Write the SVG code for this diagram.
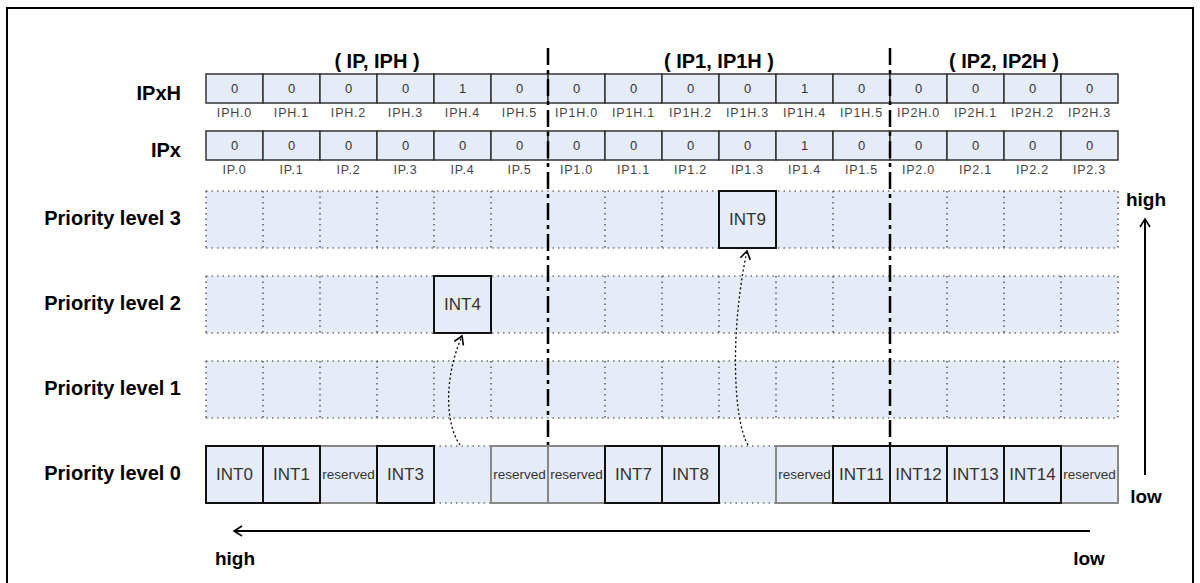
<svg xmlns="http://www.w3.org/2000/svg" width="1200" height="583" viewBox="0 0 1200 583">
<defs>
<style>
.lbl{font-family:"Liberation Sans",Arial,sans-serif;font-weight:bold;font-size:20px;fill:#000}
.ttl{font-family:"Liberation Sans",Arial,sans-serif;font-weight:bold;font-size:20px;fill:#000;text-anchor:middle}
.dir{font-family:"Liberation Sans",Arial,sans-serif;font-weight:bold;font-size:19px;fill:#000;text-anchor:middle}
.cell{fill:#E6ECF7;stroke:#333;stroke-width:1.5}
.val{font-family:"Liberation Sans",Arial,sans-serif;font-size:13px;fill:#333;text-anchor:middle}
.bit{font-family:"Liberation Sans",Arial,sans-serif;font-size:12.5px;fill:#444;text-anchor:middle;letter-spacing:0.8px}
.lvl{fill:#E6ECF7;stroke:none}
.dot{stroke:#333;stroke-width:1.2;stroke-dasharray:1.5 4;fill:none}
.blk{fill:#E6ECF7;stroke:#111;stroke-width:2}
.gry{fill:#E6ECF7;stroke:#888;stroke-width:2}
.int{font-family:"Liberation Sans",Arial,sans-serif;font-size:17px;fill:#333;text-anchor:middle}
.rsv{font-family:"Liberation Sans",Arial,sans-serif;font-size:13.5px;fill:#333;text-anchor:middle}
.sep{stroke:#000;stroke-width:2.5;stroke-dasharray:17 5 4 5;fill:none}
.arr{stroke:#000;stroke-width:2;fill:none}
.curve{stroke:#000;stroke-width:1.3;stroke-dasharray:2 2.5;fill:none}
</style>
<marker id="chev" viewBox="0 0 12 12" refX="10" refY="6" markerWidth="12" markerHeight="12" markerUnits="userSpaceOnUse" orient="auto">
<path d="M2,1 L10,6 L2,11" fill="none" stroke="#000" stroke-width="1.6"/>
</marker>
</defs>
<rect x="7" y="8" width="1186" height="590" fill="#fff" stroke="#000" stroke-width="2"/>

<g id="titles">
<text class="ttl" x="377" y="68">( IP, IPH )</text>
<text class="ttl" x="719" y="68">( IP1, IP1H )</text>
<text class="ttl" x="1004" y="68">( IP2, IP2H )</text>
</g>

<g id="row-labels">
<text class="lbl" x="181" y="100" text-anchor="end">IPxH</text>
<text class="lbl" x="181" y="157" text-anchor="end">IPx</text>
<text class="lbl" x="181" y="225" text-anchor="end">Priority level 3</text>
<text class="lbl" x="181" y="310" text-anchor="end">Priority level 2</text>
<text class="lbl" x="181" y="395" text-anchor="end">Priority level 1</text>
<text class="lbl" x="181" y="480" text-anchor="end">Priority level 0</text>
</g>

<g id="IPxH">
<rect class="cell" x="206" y="74" width="57" height="29"/><text class="val" x="234.5" y="93">0</text>
<rect class="cell" x="263" y="74" width="57" height="29"/><text class="val" x="291.5" y="93">0</text>
<rect class="cell" x="320" y="74" width="57" height="29"/><text class="val" x="348.5" y="93">0</text>
<rect class="cell" x="377" y="74" width="57" height="29"/><text class="val" x="405.5" y="93">0</text>
<rect class="cell" x="434" y="74" width="57" height="29"/><text class="val" x="462.5" y="93">1</text>
<rect class="cell" x="491" y="74" width="57" height="29"/><text class="val" x="519.5" y="93">0</text>
<rect class="cell" x="548" y="74" width="57" height="29"/><text class="val" x="576.5" y="93">0</text>
<rect class="cell" x="605" y="74" width="57" height="29"/><text class="val" x="633.5" y="93">0</text>
<rect class="cell" x="662" y="74" width="57" height="29"/><text class="val" x="690.5" y="93">0</text>
<rect class="cell" x="719" y="74" width="57" height="29"/><text class="val" x="747.5" y="93">0</text>
<rect class="cell" x="776" y="74" width="57" height="29"/><text class="val" x="804.5" y="93">1</text>
<rect class="cell" x="833" y="74" width="57" height="29"/><text class="val" x="861.5" y="93">0</text>
<rect class="cell" x="890" y="74" width="57" height="29"/><text class="val" x="918.5" y="93">0</text>
<rect class="cell" x="947" y="74" width="57" height="29"/><text class="val" x="975.5" y="93">0</text>
<rect class="cell" x="1004" y="74" width="57" height="29"/><text class="val" x="1032.5" y="93">0</text>
<rect class="cell" x="1061" y="74" width="57" height="29"/><text class="val" x="1089.5" y="93">0</text>
<text class="bit" x="234.5" y="117">IPH.0</text>
<text class="bit" x="291.5" y="117">IPH.1</text>
<text class="bit" x="348.5" y="117">IPH.2</text>
<text class="bit" x="405.5" y="117">IPH.3</text>
<text class="bit" x="462.5" y="117">IPH.4</text>
<text class="bit" x="519.5" y="117">IPH.5</text>
<text class="bit" x="576.5" y="117">IP1H.0</text>
<text class="bit" x="633.5" y="117">IP1H.1</text>
<text class="bit" x="690.5" y="117">IP1H.2</text>
<text class="bit" x="747.5" y="117">IP1H.3</text>
<text class="bit" x="804.5" y="117">IP1H.4</text>
<text class="bit" x="861.5" y="117">IP1H.5</text>
<text class="bit" x="918.5" y="117">IP2H.0</text>
<text class="bit" x="975.5" y="117">IP2H.1</text>
<text class="bit" x="1032.5" y="117">IP2H.2</text>
<text class="bit" x="1089.5" y="117">IP2H.3</text>
</g>

<g id="IPx">
<rect class="cell" x="206" y="131" width="57" height="29"/><text class="val" x="234.5" y="150">0</text>
<rect class="cell" x="263" y="131" width="57" height="29"/><text class="val" x="291.5" y="150">0</text>
<rect class="cell" x="320" y="131" width="57" height="29"/><text class="val" x="348.5" y="150">0</text>
<rect class="cell" x="377" y="131" width="57" height="29"/><text class="val" x="405.5" y="150">0</text>
<rect class="cell" x="434" y="131" width="57" height="29"/><text class="val" x="462.5" y="150">0</text>
<rect class="cell" x="491" y="131" width="57" height="29"/><text class="val" x="519.5" y="150">0</text>
<rect class="cell" x="548" y="131" width="57" height="29"/><text class="val" x="576.5" y="150">0</text>
<rect class="cell" x="605" y="131" width="57" height="29"/><text class="val" x="633.5" y="150">0</text>
<rect class="cell" x="662" y="131" width="57" height="29"/><text class="val" x="690.5" y="150">0</text>
<rect class="cell" x="719" y="131" width="57" height="29"/><text class="val" x="747.5" y="150">0</text>
<rect class="cell" x="776" y="131" width="57" height="29"/><text class="val" x="804.5" y="150">1</text>
<rect class="cell" x="833" y="131" width="57" height="29"/><text class="val" x="861.5" y="150">0</text>
<rect class="cell" x="890" y="131" width="57" height="29"/><text class="val" x="918.5" y="150">0</text>
<rect class="cell" x="947" y="131" width="57" height="29"/><text class="val" x="975.5" y="150">0</text>
<rect class="cell" x="1004" y="131" width="57" height="29"/><text class="val" x="1032.5" y="150">0</text>
<rect class="cell" x="1061" y="131" width="57" height="29"/><text class="val" x="1089.5" y="150">0</text>
<text class="bit" x="234.5" y="174">IP.0</text>
<text class="bit" x="291.5" y="174">IP.1</text>
<text class="bit" x="348.5" y="174">IP.2</text>
<text class="bit" x="405.5" y="174">IP.3</text>
<text class="bit" x="462.5" y="174">IP.4</text>
<text class="bit" x="519.5" y="174">IP.5</text>
<text class="bit" x="576.5" y="174">IP1.0</text>
<text class="bit" x="633.5" y="174">IP1.1</text>
<text class="bit" x="690.5" y="174">IP1.2</text>
<text class="bit" x="747.5" y="174">IP1.3</text>
<text class="bit" x="804.5" y="174">IP1.4</text>
<text class="bit" x="861.5" y="174">IP1.5</text>
<text class="bit" x="918.5" y="174">IP2.0</text>
<text class="bit" x="975.5" y="174">IP2.1</text>
<text class="bit" x="1032.5" y="174">IP2.2</text>
<text class="bit" x="1089.5" y="174">IP2.3</text>
</g>

<g id="level-rows">
<rect class="lvl" x="206" y="191" width="912" height="57"/>
<rect class="lvl" x="206" y="276" width="912" height="57"/>
<rect class="lvl" x="206" y="361" width="912" height="57"/>
<path class="dot" d="M206,191H1118M206,248H1118M206,276H1118M206,333H1118M206,361H1118M206,418H1118"/>
<path class="dot" d="M206,191V248M263,191V248M320,191V248M377,191V248M434,191V248M491,191V248M605,191V248M662,191V248M719,191V248M776,191V248M833,191V248M947,191V248M1004,191V248M1061,191V248M1118,191V248"/>
<path class="dot" d="M206,276V333M263,276V333M320,276V333M377,276V333M434,276V333M491,276V333M605,276V333M662,276V333M719,276V333M776,276V333M833,276V333M947,276V333M1004,276V333M1061,276V333M1118,276V333"/>
<path class="dot" d="M206,361V418M263,361V418M320,361V418M377,361V418M434,361V418M491,361V418M605,361V418M662,361V418M719,361V418M776,361V418M833,361V418M947,361V418M1004,361V418M1061,361V418M1118,361V418"/>
<rect class="lvl" x="434" y="446" width="57" height="57"/>
<rect class="lvl" x="719" y="446" width="57" height="57"/>
<path class="dot" d="M434,446H491M434,503H491M719,446H776M719,503H776"/>
</g>

<g id="separators">
<path class="sep" d="M548,48V446"/>
<path class="sep" d="M890,48V446"/>
</g>

<g id="level0">
<rect class="gry" x="320" y="446" width="57" height="57"/><text class="rsv" x="348.5" y="479">reserved</text>
<rect class="gry" x="491" y="446" width="57" height="57"/><text class="rsv" x="519.5" y="479">reserved</text>
<rect class="gry" x="548" y="446" width="57" height="57"/><text class="rsv" x="576.5" y="479">reserved</text>
<rect class="gry" x="776" y="446" width="57" height="57"/><text class="rsv" x="804.5" y="479">reserved</text>
<rect class="gry" x="1061" y="446" width="57" height="57"/><text class="rsv" x="1089.5" y="479">reserved</text>
<rect class="blk" x="206" y="446" width="57" height="57"/><text class="int" x="234.5" y="480">INT0</text>
<rect class="blk" x="263" y="446" width="57" height="57"/><text class="int" x="291.5" y="480">INT1</text>
<rect class="blk" x="377" y="446" width="57" height="57"/><text class="int" x="405.5" y="480">INT3</text>
<rect class="blk" x="605" y="446" width="57" height="57"/><text class="int" x="633.5" y="480">INT7</text>
<rect class="blk" x="662" y="446" width="57" height="57"/><text class="int" x="690.5" y="480">INT8</text>
<rect class="blk" x="833" y="446" width="57" height="57"/><text class="int" x="861.5" y="480">INT11</text>
<rect class="blk" x="890" y="446" width="57" height="57"/><text class="int" x="918.5" y="480">INT12</text>
<rect class="blk" x="947" y="446" width="57" height="57"/><text class="int" x="975.5" y="480">INT13</text>
<rect class="blk" x="1004" y="446" width="57" height="57"/><text class="int" x="1032.5" y="480">INT14</text>
</g>

<g id="INT4">
<rect class="blk" x="434" y="276" width="57" height="57"/><text class="int" x="462.5" y="310">INT4</text>
</g>
<g id="INT9">
<rect class="blk" x="719" y="191" width="57" height="57"/><text class="int" x="747.5" y="225">INT9</text>
</g>

<g id="connectors">
<path class="curve" d="M460,445 C446,425 443,380 462,336" marker-end="url(#chev)"/>
<path class="curve" d="M748,445 C733,420 730,330 747,251" marker-end="url(#chev)"/>
<path class="arr" d="M1145,475V219" marker-end="url(#chev)"/>
<path class="arr" d="M1090,531H234" marker-end="url(#chev)"/>
</g>

<g id="axis-labels">
<text class="dir" x="1146" y="206">high</text>
<text class="dir" x="1146" y="503">low</text>
<text class="dir" x="235" y="565">high</text>
<text class="dir" x="1089" y="565">low</text>
</g>
</svg>
